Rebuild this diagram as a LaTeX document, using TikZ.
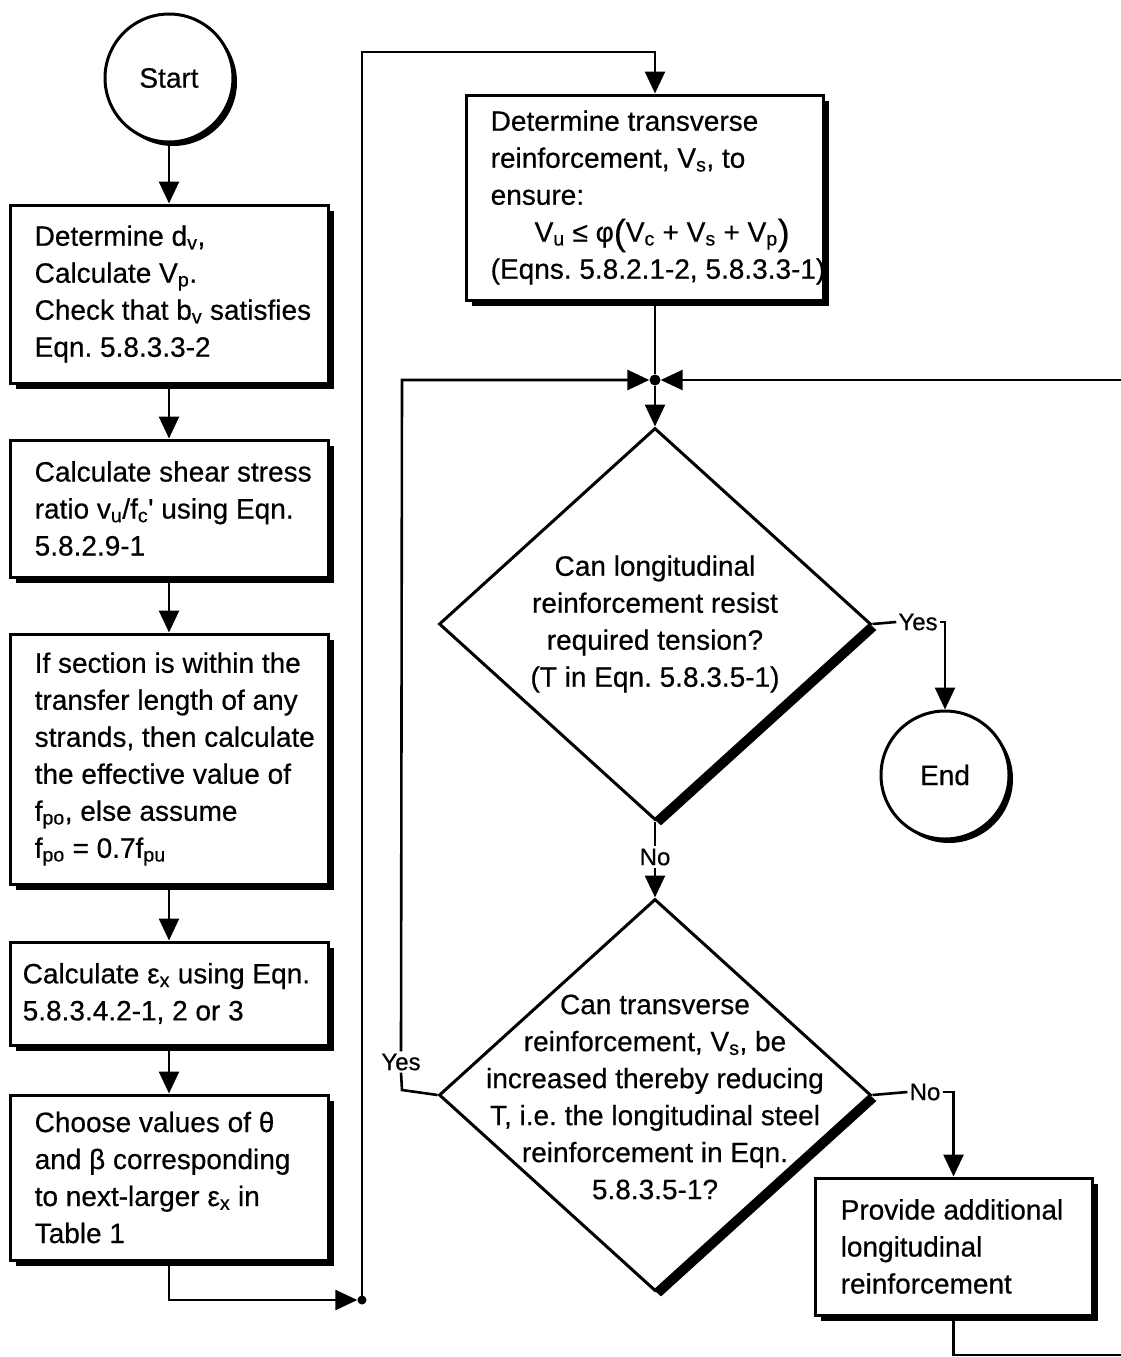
\documentclass[tikz,border=0pt]{standalone}
\usepackage{fontspec}
\setmainfont[UprightFeatures={FakeBold=0.5}]{Liberation Sans}
\usetikzlibrary{shapes.geometric,arrows.meta,shadows}
\begin{document}
\frenchspacing
\begin{tikzpicture}[x=1pt,y=-1pt,
  box/.style={draw, line width=3pt, fill=white, inner sep=0pt,
    drop shadow={shadow xshift=6pt, shadow yshift=-6pt, opacity=1, fill=black}},
  circ/.style={circle, draw, line width=3pt, fill=white, minimum size=128pt, inner sep=0pt,
    font=\fontsize{28}{34}\selectfont,
    drop shadow={shadow xshift=4pt, shadow yshift=-4pt, opacity=1, fill=black}},
  dia/.style={diamond, draw, line width=3pt, fill=white, inner sep=0pt,
    minimum width=432pt, minimum height=392pt,
    drop shadow={shadow xshift=6pt, shadow yshift=-6pt, opacity=1, fill=black}},
  txt/.style={font=\fontsize{28}{37}\selectfont, align=left, inner sep=0pt},
  ctxt/.style={font=\fontsize{28}{37}\selectfont, align=center, inner sep=0pt},
  lbl/.style={font=\fontsize{24}{24}\selectfont, inner sep=2pt},
  arr/.style={line width=2.6pt, -{Triangle[length=22pt,width=20pt]}},
  ln/.style={line width=2.6pt},
  jdot/.style={circle, fill=black, inner sep=0pt, minimum size=11pt}
]
\useasboundingbox (0,0) rectangle (1121,1357);

% left column
\node[circ] (start) at (169,78) {Start};

\node[box, minimum width=318pt, minimum height=178pt] (b1) at (169,294) {};
\node[txt, anchor=west] (t1) at ([xshift=26pt]b1.west)
  {Determine d\textsubscript{v},\\Calculate V\textsubscript{p}.\\Check that b\textsubscript{v} satisfies\\Eqn. 5.8.3.3-2};

\node[box, minimum width=318pt, minimum height=137pt] (b2) at (169,508.5) {};
\node[txt, anchor=west] (t2) at ([xshift=26pt]b2.west)
  {Calculate shear stress\\ratio v\textsubscript{u}/f\textsubscript{c}\textquotesingle\ using Eqn.\\5.8.2.9-1};

\node[box, minimum width=318pt, minimum height=250pt] (b3) at (169,759) {};
\node[txt, anchor=west] (t3) at ([xshift=26pt]b3.west)
  {If section is within the\\transfer length of any\\strands, then calculate\\the effective value of\\f\textsubscript{po}, else assume\\f\textsubscript{po} = 0.7f\textsubscript{pu}};

\node[box, minimum width=318pt, minimum height=103pt] (b4) at (169,993.5) {};
\node[txt, anchor=west] (t4) at ([xshift=14pt]b4.west)
  {Calculate ε\textsubscript{x} using Eqn.\\5.8.3.4.2-1, 2 or 3};

\node[box, minimum width=318pt, minimum height=165pt] (b5) at (169,1177.5) {};
\node[txt, anchor=west] (t5) at ([xshift=26pt]b5.west)
  {Choose values of θ\\and β corresponding\\to next-larger ε\textsubscript{x} in\\Table 1};

% right column
\node[box, minimum width=357pt, minimum height=205pt] (tb) at (644.5,197.5) {};
\node[txt, anchor=west] (ttb) at ([xshift=26pt]tb.west)
  {Determine transverse\\reinforcement, V\textsubscript{s}, to\\ensure:\\
   \hspace*{44pt}V\textsubscript{u} ≤ φ\raisebox{-3pt}{\fontsize{36}{36}\selectfont(}V\textsubscript{c} + V\textsubscript{s} + V\textsubscript{p}\raisebox{-3pt}{\fontsize{36}{36}\selectfont)}\\
   (Eqns. 5.8.2.1-2, 5.8.3.3-1)};

\node[jdot] (junc) at (655,380) {};

\node[dia] (d1) at (655,624) {};
\node[ctxt] (td1) at (d1.center)
  {Can longitudinal\\reinforcement resist\\required tension?\\(T in Eqn. 5.8.3.5-1)};

\node[circ] (end) at (945,775) {End};

\node[dia] (d2) at (655,1095) {};
\node[ctxt] (td2) at ([yshift=-2pt]d2.center)
  {Can transverse\\reinforcement, V\textsubscript{s}, be\\increased thereby reducing\\T, i.e. the longitudinal steel\\reinforcement in Eqn.\\5.8.3.5-1?};

\node[box, minimum width=277pt, minimum height=137pt] (br) at (953.5,1246.5) {};
\node[txt, anchor=west] (tbr) at ([xshift=27pt]br.west)
  {Provide additional\\longitudinal\\reinforcement};

% labels
\node[lbl] (yes1) at (918,622) {Yes};
\node[lbl] (no1) at (655,857) {No};
\node[lbl] (no2) at (925,1092) {No};
\node[lbl] (yes2) at (401,1062) {Yes};

% coordinates
\node[jdot, minimum size=9pt] (jb) at (362,1300) {};
\coordinate (tl) at (362,52);
\coordinate (tr) at (655,52);
\coordinate (c1) at (402,1090);
\coordinate (c2) at (402,380);
\coordinate (re) at (1121,380);
\coordinate (brc) at (953.5,1355);
\coordinate (bre) at (1121,1355);

% connectors
\draw[arr] (start.south) -- (b1.north);
\draw[arr] (b1.south) -- (b2.north);
\draw[arr] (b2.south) -- (b3.north);
\draw[arr] (b3.south) -- (b4.north);
\draw[arr] (b4.south) -- (b5.north);
\draw[arr] (b5.south) |- (jb);
\draw[arr] (jb.center) -- (tl) -- (tr) -- (tb.north -| junc);
\draw[ln] (tb.south -| junc) -- (junc);
\draw[arr] (junc) -- (d1.north);
\draw[ln] (d1.east) -- (yes1.west);
\draw[arr] (yes1.east) -| (end.north);
\draw[ln] (d1.south) -- (no1.north);
\draw[arr] (no1.south) -- (d2.north);
\draw[ln] (d2.east) -- (no2.west);
\draw[arr] (no2.east) -| (br.north);
\draw[ln] (d2.west) -- (c1) -- (yes2.south);
\draw[arr] (yes2.north) -- (c2) -- (junc);
\draw[arr] (re) -- (junc);
\draw[ln] (br.south) -- (brc) -- (bre);
\end{tikzpicture}
\end{document}
